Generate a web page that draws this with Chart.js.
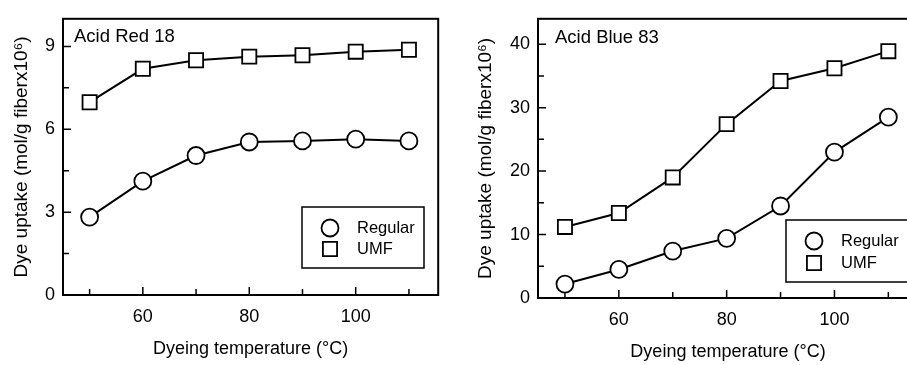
<!DOCTYPE html>
<html>
<head>
<meta charset="utf-8">
<script src="https://cdn.jsdelivr.net/npm/chart.js@4.4.0/dist/chart.umd.min.js"></script>
<style>
  html, body { margin: 0; padding: 0; background: #fff; overflow: hidden; }
  body { width: 907px; height: 365px; position: relative; }
  canvas { position: absolute; top: 0; }
  #red18 { left: 0; }
  #blue83 { left: 450px; }
</style>
</head>
<body>
<canvas id="red18" width="450" height="365"></canvas>
<canvas id="blue83" width="480" height="365"></canvas>
<script>
// data
const temps = [50, 60, 70, 80, 90, 100, 110]
const x_ticks = [50, 60, 70, 80, 90, 100, 110]

const red18_regular = [2.82, 4.12, 5.05, 5.54, 5.58, 5.64, 5.58]
const red18_umf = [6.98, 8.19, 8.50, 8.63, 8.68, 8.81, 8.88]
const red18_y_ticks = [0, 1.5, 3, 4.5, 6, 7.5, 9]

const blue83_regular = [2.2, 4.5, 7.4, 9.4, 14.5, 23.0, 28.5]
const blue83_umf = [11.2, 13.4, 19.0, 27.4, 34.2, 36.2, 38.9]
const blue83_y_ticks = [0, 5, 10, 15, 20, 25, 30, 35, 40]

const series_labels = ['Regular', 'UMF']

const FONT = '"Liberation Sans", Arial, sans-serif'
Chart.defaults.font.family = FONT
Chart.defaults.color = '#000'

// box, inward ticks, panel name and legend box
const frame_plugin = {
    id: 'frame',
    beforeDatasetsDraw(chart, args, opts) {
        const ctx = chart.ctx
        const a = chart.chartArea
        ctx.save()
        ctx.strokeStyle = '#000'
        ctx.lineWidth = 2
        ctx.strokeRect(a.left, a.top, a.right - a.left, a.bottom - a.top)

        ctx.lineWidth = 1.5
        ctx.beginPath()
        const sx = chart.scales.x
        sx.ticks.forEach(t => {
            let px = sx.getPixelForValue(t.value)
            let len = t.value % opts.xLabelStep === 0 ? 8 : 6
            ctx.moveTo(px, a.bottom)
            ctx.lineTo(px, a.bottom - len)
        })
        const sy = chart.scales.y
        sy.ticks.forEach(t => {
            if (t.value === 0) return
            let py = sy.getPixelForValue(t.value)
            let len = t.value % opts.yLabelStep === 0 ? 8 : 6
            ctx.moveTo(a.left, py)
            ctx.lineTo(a.left + len, py)
        })
        ctx.stroke()

        ctx.fillStyle = '#000'
        ctx.font = `18.5px ${FONT}`
        ctx.textBaseline = 'middle'
        ctx.textAlign = 'left'
        ctx.fillText(opts.label, a.left + opts.labelDx, a.top + opts.labelDy)
        ctx.restore()
    },
    afterDraw(chart, args, opts) {
        const ctx = chart.ctx
        const a = chart.chartArea
        const box = opts.legend
        let bx = a.left + box.left
        let by = a.bottom - box.bottom - box.height
        ctx.save()
        ctx.fillStyle = '#fff'
        ctx.fillRect(bx, by, box.width, box.height)
        ctx.strokeStyle = '#000'
        ctx.lineWidth = 1.5
        ctx.strokeRect(bx, by, box.width, box.height)

        chart.data.datasets.forEach((ds, i) => {
            let my = by + box.rows[i]
            ctx.fillStyle = '#fff'
            ctx.strokeStyle = '#000'
            ctx.lineWidth = ds.pointBorderWidth
            Chart.helpers.drawPoint(ctx, {
                pointStyle: ds.pointStyle,
                radius: ds.pointRadius,
                borderWidth: ds.pointBorderWidth,
                rotation: 0
            }, bx + 28, my)
            ctx.fillStyle = '#000'
            ctx.font = `16.5px ${FONT}`
            ctx.textBaseline = 'middle'
            ctx.textAlign = 'left'
            ctx.fillText(ds.label, bx + 55, my)
        })
        ctx.restore()
    }
}

function make_dataset(label, values, style, radius) {
    return {
        label: label,
        data: temps.map((t, i) => ({x: t, y: values[i]})),
        borderColor: '#000',
        borderWidth: 2,
        pointStyle: style,
        pointRadius: radius,
        pointHoverRadius: radius,
        pointBorderWidth: 1.8,
        pointBorderColor: '#000',
        pointBackgroundColor: '#fff',
        tension: 0,
        clip: false
    }
}

function make_chart(param = {}) {
    const tick_font = { size: 18 }
    return new Chart(document.getElementById(param.id), {
        type: 'line',
        data: {
            datasets: [
                make_dataset(series_labels[0], param.regular, 'circle', 8.5),
                make_dataset(series_labels[1], param.umf, 'rect', 10)
            ]
        },
        options: {
            responsive: false,
            animation: false,
            devicePixelRatio: 1,
            layout: { padding: param.padding },
            plugins: {
                legend: { display: false },
                tooltip: { enabled: false },
                frame: {
                    label: param.label,
                    labelDx: param.labelDx,
                    labelDy: param.labelDy,
                    xLabelStep: 20,
                    yLabelStep: param.yLabelStep,
                    legend: param.legend
                }
            },
            scales: {
                x: {
                    type: 'linear',
                    min: 45,
                    max: 115.5,
                    afterBuildTicks: s => { s.ticks = x_ticks.map(v => ({value: v})) },
                    grid: { display: false, drawTicks: false },
                    border: { display: false },
                    ticks: {
                        padding: param.xTickPad,
                        autoSkip: false,
                        maxRotation: 0,
                        font: tick_font,
                        color: '#000',
                        callback: v => v % 20 === 0 ? v : ''
                    },
                    title: {
                        display: true,
                        text: 'Dyeing temperature (°C)',
                        font: { size: 18 },
                        color: '#000',
                        padding: { top: 0, bottom: param.xTitlePad }
                    },
                    afterFit: s => { s.height = param.xHeight }
                },
                y: {
                    min: 0,
                    max: param.yMax,
                    afterBuildTicks: s => { s.ticks = param.yTicks.map(v => ({value: v})) },
                    grid: { display: false, drawTicks: false },
                    border: { display: false },
                    ticks: {
                        padding: 8,
                        autoSkip: false,
                        font: tick_font,
                        color: '#000',
                        callback: v => v % param.yLabelStep === 0 ? v : ''
                    },
                    title: {
                        display: true,
                        text: 'Dye uptake (mol/g fiberx10⁶)',
                        font: { size: 19 },
                        color: '#000',
                        padding: { top: param.yTitlePad, bottom: 0 }
                    },
                    afterFit: s => { s.width = param.yWidth }
                }
            }
        },
        plugins: [frame_plugin]
    })
}

make_chart({
    id: 'red18',
    label: 'Acid Red 18',
    regular: red18_regular,
    umf: red18_umf,
    yMax: 10,
    yTicks: red18_y_ticks,
    yLabelStep: 3,
    padding: { left: 0, right: 7, top: 10, bottom: 0 },
    yWidth: 63,
    xHeight: 70,
    xTickPad: 11,
    xTitlePad: 5,
    yTitlePad: 10,
    labelDx: 11,
    labelDy: 18,
    legend: { left: 239, bottom: 27, width: 122, height: 61, rows: [21, 42] }
})

make_chart({
    id: 'blue83',
    label: 'Acid Blue 83',
    regular: blue83_regular,
    umf: blue83_umf,
    yMax: 44,
    yTicks: blue83_y_ticks,
    yLabelStep: 10,
    padding: { left: 0, right: 12, top: 13, bottom: 0 },
    yWidth: 88,
    xHeight: 67,
    xTickPad: 11,
    xTitlePad: 2,
    yTitlePad: 24,
    labelDx: 17,
    labelDy: 19,
    legend: { left: 248, bottom: 16, width: 122, height: 62, rows: [21, 43] }
})
</script>
</body>
</html>
